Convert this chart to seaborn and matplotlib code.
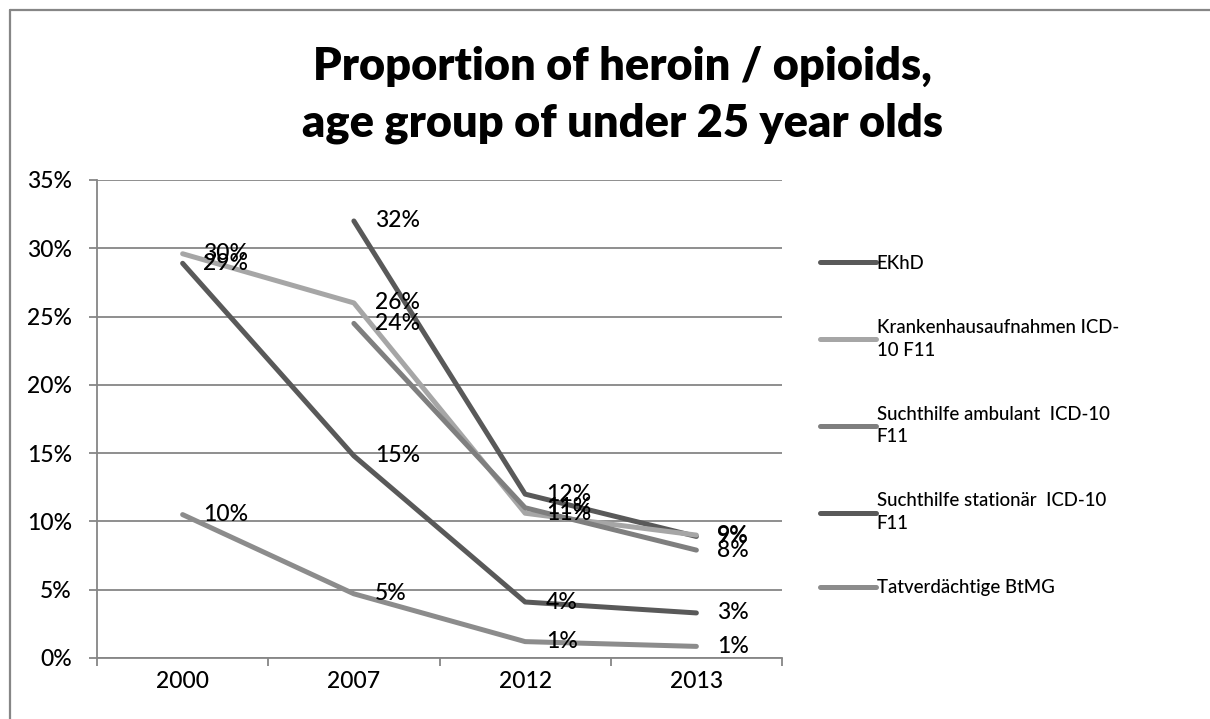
import matplotlib.pyplot as plt
from matplotlib.lines import Line2D
from matplotlib.ticker import PercentFormatter
import seaborn as sns
import numpy as np
import pandas as pd

# Proportion of heroin / opioids, under 25 year olds (values in %)
years = ['2000', '2007', '2012', '2013']
ekhd = [np.nan, 32.0, 12.0, 8.9]
krankenhaus = [29.6, 26.0, 10.6, 9.0]
sucht_ambulant = [np.nan, 24.5, 11.0, 7.9]
sucht_stationaer = [28.9, 14.8, 4.1, 3.3]
tatverdaechtige = [10.5, 4.7, 1.2, 0.85]

series_names = [
    'EKhD',
    'Krankenhausaufnahmen ICD-\n10 F11',
    'Suchthilfe ambulant  ICD-10\nF11',
    'Suchthilfe stationär  ICD-10\nF11',
    'Tatverdächtige BtMG',
]
series_values = [ekhd, krankenhaus, sucht_ambulant, sucht_stationaer, tatverdaechtige]
colors = ['#595959', '#a6a6a6', '#7f7f7f', '#595959', '#8c8c8c']

rows = []
for name, vals in zip(series_names, series_values):
    for i, v in enumerate(vals):
        rows.append({'pos': i, 'year': years[i], 'series': name, 'value': v})
df = pd.DataFrame(rows).dropna()

sns.set_style("white")
plt.rcParams['font.family'] = ['Lato', 'DejaVu Sans']
plt.rcParams['text.color'] = 'black'

fig = plt.figure(figsize=(12.1, 7.19), dpi=100)
ax = fig.add_axes([97 / 1210, 61 / 719, 685 / 1210, 478 / 719])

sns.lineplot(
    data=df, x='pos', y='value', hue='series',
    hue_order=series_names, palette=colors,
    linewidth=3.6, ax=ax, legend=True,
    solid_capstyle='round', solid_joinstyle='round',
)

# data labels right of each point
for name, vals in zip(series_names, series_values):
    for i, v in enumerate(vals):
        if np.isnan(v):
            continue
        ax.annotate(f"{round(v)}%", (i, v), textcoords='offset points',
                    xytext=(15, 0), ha='left', va='center', fontsize=16.5,
                    color='black', fontweight='medium')

ax.set_xlim(-0.5, 3.5)
ax.set_ylim(0, 35)
ax.set_yticks(np.arange(0, 36, 5))
ax.yaxis.set_major_formatter(PercentFormatter(decimals=0))
ax.set_xticks(range(len(years)))
ax.set_xticklabels(years)
ax.set_xticks(np.arange(-0.5, 4, 1), minor=True)
ax.set_xlabel('')
ax.set_ylabel('')

grey = '#868686'
ax.yaxis.grid(True, color=grey, linewidth=1.3)
ax.set_axisbelow(True)
for side in ['top', 'right']:
    ax.spines[side].set_visible(False)
for side in ['left', 'bottom']:
    ax.spines[side].set_color(grey)
    ax.spines[side].set_linewidth(1.3)
ax.tick_params(axis='y', which='major', length=6, width=1.3, color=grey,
               direction='out', left=True, pad=12, labelsize=16.5, labelcolor='black')
ax.tick_params(axis='x', which='major', length=0, pad=9, labelsize=16.5, labelcolor='black')
ax.tick_params(axis='x', which='minor', length=6, width=1.3, color=grey,
               direction='out', bottom=True)
for lab in ax.get_xticklabels() + ax.get_yticklabels():
    lab.set_fontweight('medium')

leg = ax.legend(loc='upper left', bbox_to_anchor=(820 / 1210, 1 - 255 / 719),
                bbox_transform=fig.transFigure, frameon=False,
                prop={'size': 13.4, 'weight': 'medium'}, borderaxespad=0, borderpad=0,
                handlelength=3.0, handletextpad=0.05, labelspacing=2.53)
for t in leg.get_texts():
    t.set_linespacing(1.4)
for line in leg.get_lines():
    line.set_linewidth(3.6)
    line.set_solid_capstyle('round')

fig.text(622 / 1210, 1 - 95 / 719,
         'Proportion of heroin / opioids,\nage group of under 25 year olds',
         ha='center', va='center', fontsize=32.5, fontweight='heavy', linespacing=1.45)

# outer chart border (left and top edges visible)
fig.add_artist(Line2D([9.5 / 1210, 9.5 / 1210], [0, 1 - 9.5 / 719], color=grey, linewidth=1.6,
                      transform=fig.transFigure))
fig.add_artist(Line2D([9.5 / 1210, 1], [1 - 9.5 / 719, 1 - 9.5 / 719], color=grey, linewidth=1.6,
                      transform=fig.transFigure))

fig.savefig('out.png', dpi=100)
